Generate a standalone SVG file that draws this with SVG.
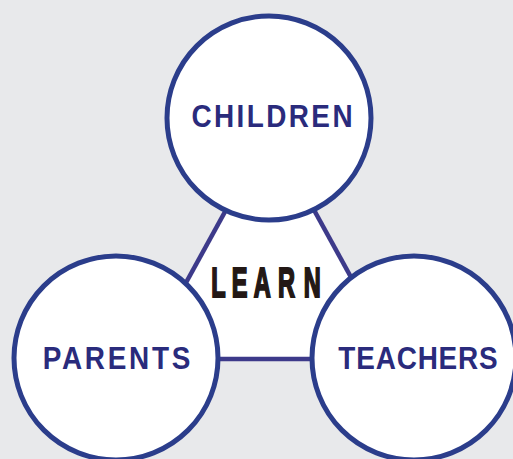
<svg xmlns="http://www.w3.org/2000/svg" width="513" height="459" viewBox="0 0 513 459">
  <style>
    .node { fill: #ffffff; stroke: #2b3d8b; stroke-width: 5; }
    .conn { stroke: #3d3a8a; stroke-width: 4.5; fill: none; stroke-linecap: butt; }
    .lbl { font-family: "Liberation Sans", Arial, sans-serif; font-weight: bold; fill: #2a2b7c; font-size: 31px; text-anchor: middle; }
    .learn { font-family: "Liberation Sans", Arial, sans-serif; font-weight: bold; fill: #231815; stroke: #231815; stroke-width: 2.2; stroke-linejoin: miter; font-size: 42px; text-anchor: middle; }
  </style>
  <rect x="0" y="0" width="513" height="459" fill="#e8e9eb"/>
  <polygon points="270,130 144,359 396,359" fill="#ffffff"/>
  <g id="connectors">
    <line class="conn" x1="270" y1="130" x2="144" y2="359"/>
    <line class="conn" x1="270" y1="130" x2="396" y2="359"/>
    <line class="conn" x1="144" y1="359" x2="396" y2="359"/>
  </g>
  <g id="learn">
    <text class="learn" transform="translate(0,296.6) scale(0.56,1)" x="390.2 428.0 468.4 511.6 557.7" y="0">LEARN</text>
  </g>
  <g id="children">
    <circle class="node" cx="269" cy="118" r="102"/>
    <text class="lbl" transform="translate(272,127) scale(0.9,1)" x="0" y="0" textLength="179" lengthAdjust="spacing">CHILDREN</text>
  </g>
  <g id="parents">
    <circle class="node" cx="116" cy="358" r="102"/>
    <text class="lbl" transform="translate(116.5,369) scale(0.9,1)" x="0" y="0" textLength="164" lengthAdjust="spacing">PARENTS</text>
  </g>
  <g id="teachers">
    <circle class="node" cx="414" cy="358" r="102"/>
    <text class="lbl" transform="translate(418,369) scale(0.9,1)" x="0" y="0" textLength="177" lengthAdjust="spacing">TEACHERS</text>
  </g>
</svg>
